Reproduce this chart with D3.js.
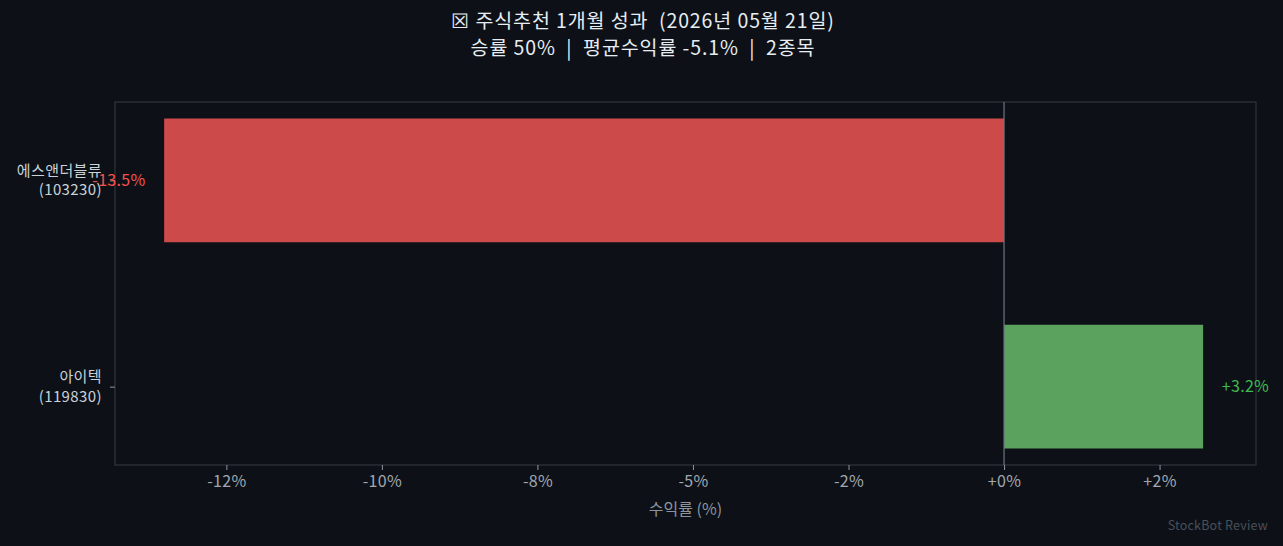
<!DOCTYPE html>
<html>
<head>
<meta charset="utf-8">
<script src="https://cdn.jsdelivr.net/npm/d3@7"></script>
<style>
  html, body { margin: 0; padding: 0; background: #0d1117; }
  text { font-family: "Noto Sans CJK KR", "Noto Sans", sans-serif; white-space: pre; }
</style>
</head>
<body>
<div id="main"></div>
<script>
// data
var names = ["아이텍", "에스앤더블류"];
var codes = ["119830", "103230"];
var returns = [3.2, -13.5];
var tickValues = [-12.5, -10, -7.5, -5, -2.5, 0, 2.5];
var tickLabels = ["-12%", "-10%", "-8%", "-5%", "-2%", "+0%", "+2%"];
var titleLines = ["☒ 주식추천 1개월 성과  (2026년 05월 21일)", "승률 50%  |  평균수익률 -5.1%  |  2종목"];

var width = 1283, height = 546;
var margin = {top: 102, right: 27, bottom: 81, left: 115};

var svg = d3.select("#main").append("svg")
    .attr("width", width)
    .attr("height", height)
    .style("background", "#0d1117");

var x = d3.scaleLinear().domain([-14.29, 4.05]).range([margin.left, width - margin.right]);
var y = d3.scaleLinear().domain([-0.38, 1.38]).range([height - margin.bottom, margin.top]);
var barH = y(0) - y(0.6);

// frame
svg.append("rect")
    .attr("x", margin.left).attr("y", margin.top)
    .attr("width", width - margin.left - margin.right)
    .attr("height", height - margin.top - margin.bottom)
    .attr("fill", "none").attr("stroke", "#30363d").attr("stroke-width", 1.2);

// bars
svg.append("g").selectAll("rect").data(returns)
    .enter().append("rect")
    .attr("x", d => x(Math.min(0, d)))
    .attr("y", (d, i) => y(i) - barH / 2)
    .attr("width", d => Math.abs(x(d) - x(0)))
    .attr("height", barH)
    .attr("fill", d => d >= 0 ? "#5aa25e" : "#cc4a4a");

// zero line
svg.append("line")
    .attr("x1", x(0)).attr("x2", x(0))
    .attr("y1", margin.top).attr("y2", height - margin.bottom)
    .attr("stroke", "#6e7681").attr("stroke-width", 1.2);

// x axis
var xAxis = d3.axisBottom(x)
    .tickValues(tickValues)
    .tickFormat((d, i) => tickLabels[i])
    .tickSize(5).tickSizeOuter(0).tickPadding(6);
var gx = svg.append("g")
    .attr("transform", "translate(0," + (height - margin.bottom) + ")")
    .call(xAxis);
gx.select(".domain").remove();
gx.selectAll("line").attr("stroke", "#8b949e");
gx.selectAll("text").attr("fill", "#a0a7b0").style("font-size", "16px").style("letter-spacing", "0.3px");

// y axis
var yAxis = d3.axisLeft(y)
    .tickValues(d3.range(names.length))
    .tickFormat("")
    .tickSize(5).tickSizeOuter(0);
var gy = svg.append("g")
    .attr("transform", "translate(" + margin.left + ",0)")
    .call(yAxis);
gy.select(".domain").remove();
gy.selectAll("line").attr("stroke", "#8b949e");

var catLabels = svg.append("g").selectAll("text").data(names)
    .enter().append("text")
    .attr("x", margin.left - 13)
    .attr("y", (d, i) => y(i))
    .attr("text-anchor", "end")
    .attr("fill", "#c9d1d9")
    .style("font-size", "15px")
    .style("letter-spacing", "0.4px");
catLabels.append("tspan").attr("x", margin.left - 13).attr("dy", "-0.3em").text(d => d);
catLabels.append("tspan").attr("x", margin.left - 13).attr("dy", "1.3em").text((d, i) => "(" + codes[i] + ")");

// value labels (drawn over the category labels, as in the original)
svg.append("g").selectAll("text").data(returns)
    .enter().append("text")
    .attr("x", d => d >= 0 ? x(d + 0.3) : x(d - 0.3))
    .attr("y", (d, i) => y(i))
    .attr("dy", "0.35em")
    .attr("text-anchor", d => d >= 0 ? "start" : "end")
    .attr("fill", d => d >= 0 ? "#3fb950" : "#f85149")
    .style("font-size", "16px")
    .style("letter-spacing", "0.3px")
    .text(d => (d >= 0 ? "+" : "") + d.toFixed(1) + "%");

// axis label
svg.append("text")
    .attr("x", (margin.left + width - margin.right) / 2)
    .attr("y", 515)
    .attr("text-anchor", "middle")
    .attr("fill", "#8b949e")
    .style("font-size", "16px")
    .text("수익률 (%)");

// title
svg.append("g").selectAll("text").data(titleLines)
    .enter().append("text")
    .attr("x", 643)
    .attr("y", (d, i) => 28 + i * 26.5)
    .attr("text-anchor", "middle")
    .attr("fill", "#e6edf3")
    .style("font-size", "19.5px")
    .style("letter-spacing", "0.9px")
    .text(d => d);

// footer
svg.append("text")
    .attr("x", 1268).attr("y", 530)
    .attr("text-anchor", "end")
    .attr("fill", "#484f58")
    .style("font-size", "12.5px")
    .style("letter-spacing", "0.2px")
    .text("StockBot Review");
</script>
</body>
</html>
